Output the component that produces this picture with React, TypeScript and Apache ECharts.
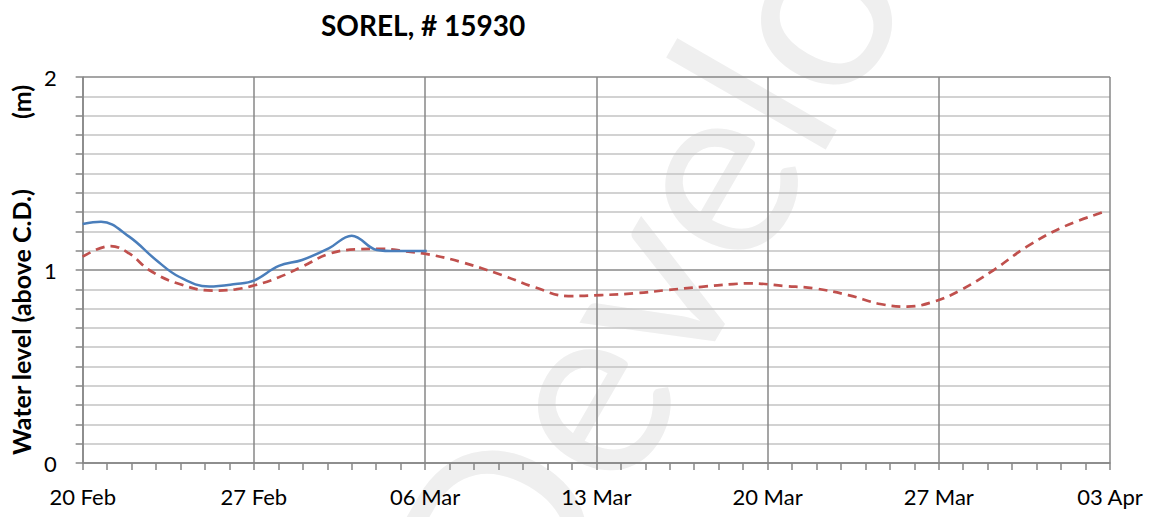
import React, { useEffect, useRef } from "react";
import * as echarts from "echarts";

const chartTitle = "SOREL, # 15930";
const watermarkText = "Develop";
const tickLabels = ["20 Feb", "27 Feb", "06 Mar", "13 Mar", "20 Mar", "27 Mar", "03 Apr"];

// days since 20 Feb
const observedDays = [0, 0.75, 1.9, 3.0, 3.94, 5.17, 6.25, 7.0, 8.02, 8.97, 10.06, 11.0, 12.03, 12.8, 14.07];
const observedLevels = [1.238, 1.25, 1.173, 1.052, 0.965, 0.914, 0.927, 0.945, 1.021, 1.052, 1.112, 1.178, 1.104, 1.098, 1.098];

const predictedDays = [0, 1.15, 1.9, 2.72, 3.8, 5.3, 6.25, 7.07, 8.02, 8.97, 10.06, 11.15, 12.23, 13.19, 14.14, 15.43, 17.13, 18.49, 19.85, 21.2, 22.56, 23.9, 25.3, 26.6, 27.3, 28.7, 29.9, 31.3, 32.6, 33.7, 34.8, 35.9, 37.25, 38.6, 40.1, 41.9];
const predictedLevels = [1.069, 1.124, 1.086, 1.0, 0.934, 0.893, 0.9, 0.922, 0.962, 1.017, 1.083, 1.107, 1.11, 1.097, 1.081, 1.043, 0.974, 0.91, 0.865, 0.87, 0.879, 0.896, 0.913, 0.927, 0.931, 0.917, 0.905, 0.87, 0.824, 0.81, 0.836, 0.896, 1.0, 1.121, 1.224, 1.307];

const FONT = "Lato, 'Open Sans', sans-serif";

export default function App() {
  const ref = useRef<HTMLDivElement>(null);
  useEffect(() => {
    if (!ref.current) return;
    const chart = echarts.init(ref.current, undefined, { renderer: "svg" });
    const minorColor = "#c3c3c3";
    const majorColor = "#878787";
    chart.setOption({
      animation: false,
      backgroundColor: "#ffffff",
      title: {
        text: chartTitle,
        left: 316,
        top: 6,
        textStyle: { fontFamily: FONT, fontWeight: "bold", fontSize: 28, color: "#000" },
      },
      graphic: {
        elements: [
          {
            type: "text",
            x: 445,
            y: 615,
            rotation: Math.PI / 3,
            z: -10,
            silent: true,
            style: {
              text: watermarkText,
              fontFamily: FONT,
              fontWeight: "normal",
              fontSize: 250,
              fill: "#efefef",
              textAlign: "left",
              textVerticalAlign: "middle",
            },
          },
        ],
      },
      grid: { left: 80, right: 39, top: 77, bottom: 54 },
      xAxis: {
        type: "value",
        min: 0,
        max: 42,
        interval: 7,
        axisLine: { show: true, lineStyle: { color: majorColor, width: 1.5 } },
        axisTick: { show: true, length: 7, lineStyle: { color: majorColor, width: 1.5 } },
        minorTick: { show: true, splitNumber: 7, length: 7, lineStyle: { color: majorColor, width: 1.5 } },
        splitLine: { show: true, lineStyle: { color: majorColor, width: 1.5 } },
        axisLabel: {
          margin: 22,
          fontFamily: FONT,
          fontSize: 22,
          color: "#000",
          formatter: (v: number) => tickLabels[Math.round(v / 7)] ?? "",
        },
      },
      yAxis: {
        type: "value",
        min: 0,
        max: 2,
        interval: 0.1,
        name: "{a|Water level (above C.D.)}{b|(m)}",
        nameLocation: "middle",
        nameGap: 49,
        nameRotate: 90,
        nameTextStyle: {
          rich: {
            a: { fontFamily: FONT, fontWeight: "bold", fontSize: 25, color: "#000" },
            b: { fontFamily: FONT, fontWeight: "bold", fontSize: 25, color: "#000", padding: [0, 0, 0, 70] },
          },
        },
        axisLine: { show: true, lineStyle: { color: majorColor, width: 1.5 } },
        axisTick: { show: true, length: 7, lineStyle: { color: majorColor, width: 1.5 } },
        splitLine: {
          show: true,
          lineStyle: {
            width: 1.5,
            color: [majorColor, minorColor, minorColor, minorColor, minorColor, minorColor, minorColor, minorColor, minorColor, minorColor],
          },
        },
        axisLabel: {
          margin: 26,
          fontFamily: FONT,
          fontSize: 22,
          color: "#000",
          formatter: (v: number) => (Math.abs(v - Math.round(v)) < 1e-6 ? String(Math.round(v)) : ""),
        },
      },
      series: [
        {
          name: "Predicted",
          type: "line",
          smooth: 0.4,
          showSymbol: false,
          data: predictedDays.map((d, i) => [d, predictedLevels[i]]),
          lineStyle: { color: "#C0504D", width: 2.7, type: [9, 6] },
          z: 3,
        },
        {
          name: "Observed",
          type: "line",
          smooth: 0.4,
          showSymbol: false,
          data: observedDays.map((d, i) => [d, observedLevels[i]]),
          lineStyle: { color: "#4A7EBB", width: 2.5 },
          z: 4,
        },
      ],
    });
    return () => chart.dispose();
  }, []);
  return <div ref={ref} style={{ position: "fixed", left: 0, top: 0, width: 1149, height: 517 }} />;
}
